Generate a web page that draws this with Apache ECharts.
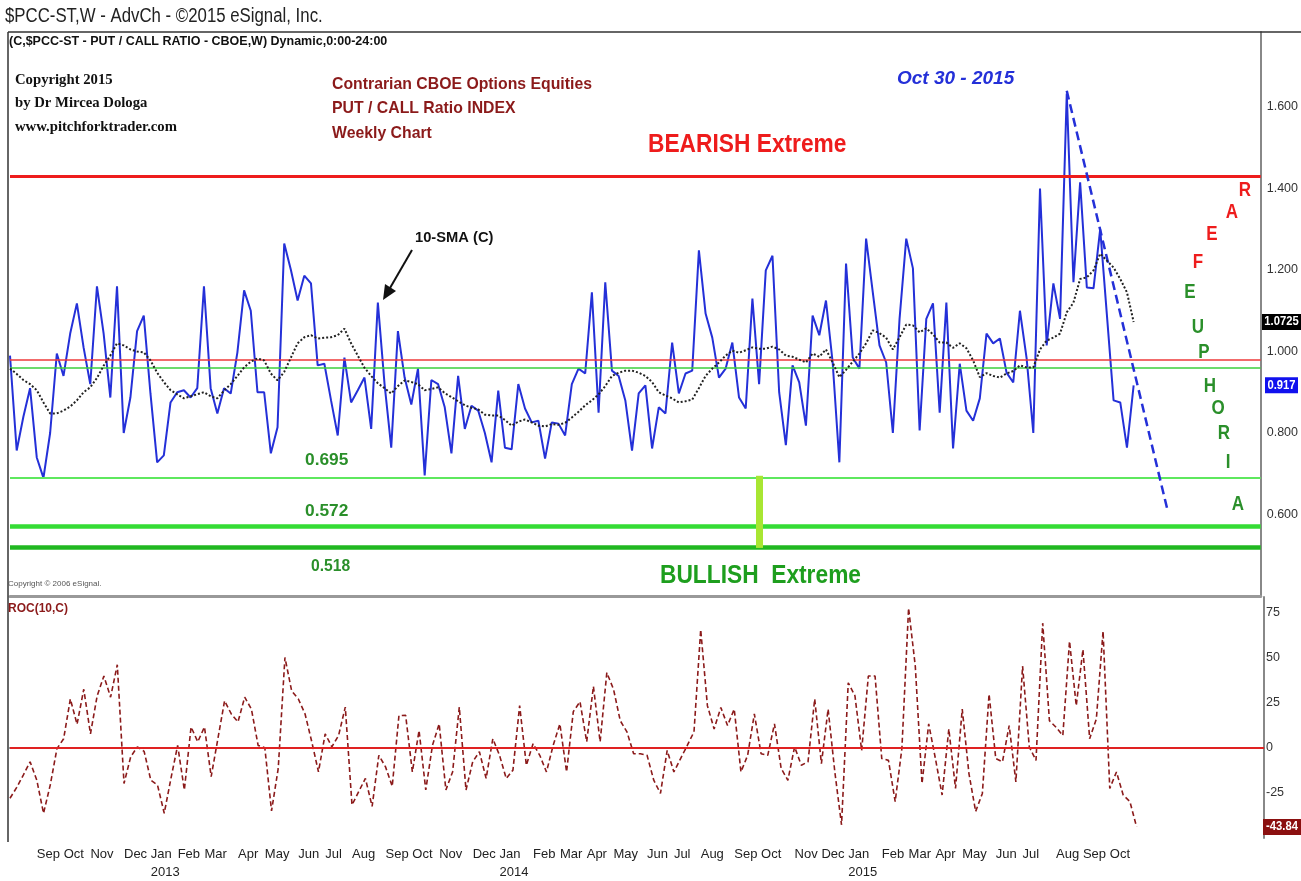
<!DOCTYPE html>
<html>
<head>
<meta charset="utf-8">
<title>$PCC-ST Put/Call Ratio - Weekly</title>
<script src="https://cdn.jsdelivr.net/npm/echarts@6/dist/echarts.min.js"></script>
<style>
  html, body { margin: 0; padding: 0; background: #fff; }
  #chart { width: 1301px; height: 881px; }
</style>
</head>
<body>
<div id="chart"></div>
<script>
/* -------------------------------------------------------------------------- */
/* Data (Aug 10 2012 .. Oct 30 2015)                */
var firstWeek = [2012, 7, 10];
var futureWeeks = 19;
var monthNames = ['Jan', 'Feb', 'Mar', 'Apr', 'May', 'Jun', 'Jul', 'Aug', 'Sep', 'Oct', 'Nov', 'Dec'];

var closeValues = [
  0.99, 0.757, 0.84, 0.91, 0.74, 0.69, 0.80, 0.995, 0.94, 1.044,
  1.118, 1.01, 0.92, 1.16, 1.044, 0.887, 1.16, 0.80, 0.887, 1.05,
  1.088, 0.897, 0.728, 0.745, 0.875, 0.90, 0.905, 0.887, 0.91, 1.16,
  0.91, 0.848, 0.91, 0.897, 0.998, 1.15, 1.10, 0.90, 0.90, 0.75,
  0.814, 1.265, 1.20, 1.125, 1.186, 1.167, 0.966, 0.97, 0.88, 0.794,
  0.985, 0.875, 0.905, 0.936, 0.81, 1.12, 0.92, 0.764, 1.05, 0.936,
  0.87, 0.958, 0.696, 0.93, 0.92, 0.863, 0.75, 0.94, 0.81, 0.867,
  0.855, 0.80, 0.728, 0.904, 0.764, 0.76, 0.92, 0.86, 0.826, 0.83,
  0.737, 0.826, 0.823, 0.794, 0.92, 0.958, 0.946, 1.145, 0.85, 1.17,
  0.953, 0.94, 0.88, 0.757, 0.897, 0.917, 0.762, 0.863, 0.848, 1.022,
  0.897, 0.946, 0.953, 1.248, 1.093, 1.034, 0.936, 0.958, 1.022, 0.887,
  0.86, 1.13, 0.92, 1.199, 1.235, 0.90, 0.77, 0.966, 0.924, 0.818,
  1.088, 1.04, 1.125, 0.973, 0.728, 1.216, 0.985, 0.958, 1.277, 1.145,
  1.015, 0.973, 0.80, 1.08, 1.277, 1.204, 0.806, 1.08, 1.118, 0.85,
  1.12, 0.762, 0.97, 0.855, 0.83, 0.885, 1.044, 1.02, 1.032, 0.948,
  0.924, 1.10, 0.983, 0.80, 1.40, 1.015, 1.167, 1.08, 1.633, 1.17,
  1.415, 1.157, 1.155, 1.30, 1.09, 0.88, 0.875, 0.764, 0.917
];

// 10-SMA (C), black dotted line
var smaValues = [
  0.958, 0.945, 0.93, 0.92, 0.905, 0.875, 0.848, 0.848, 0.855, 0.865,
  0.88, 0.90, 0.912, 0.935, 0.965, 0.99, 1.02, 1.015, 1.005, 1.0,
  0.998, 0.978, 0.948, 0.925, 0.905, 0.895, 0.885, 0.89, 0.895, 0.90,
  0.89, 0.885, 0.904, 0.92, 0.94, 0.961, 0.975, 0.983, 0.978, 0.946,
  0.929, 0.95, 0.985, 1.02, 1.035, 1.04, 1.032, 1.034, 1.035, 1.04,
  1.056, 1.02, 0.99, 0.96, 0.94, 0.922, 0.91, 0.897, 0.915, 0.929,
  0.925, 0.92, 0.905, 0.908, 0.912, 0.898, 0.888, 0.878, 0.868, 0.862,
  0.858, 0.845, 0.843, 0.843, 0.832, 0.818, 0.828, 0.833, 0.826, 0.818,
  0.816, 0.822, 0.82, 0.825, 0.838, 0.852, 0.868, 0.88, 0.895, 0.915,
  0.94, 0.948, 0.953, 0.953, 0.948, 0.94, 0.925, 0.90, 0.892, 0.885,
  0.875, 0.878, 0.882, 0.91, 0.94, 0.958, 0.973, 0.99, 1.002, 0.997,
  1.003, 1.01, 1.007, 1.007, 1.012, 1.005, 0.99, 0.987, 0.98, 0.973,
  0.995, 0.987, 1.005, 0.973, 0.937, 0.955, 0.975, 0.995, 1.02, 1.052,
  1.045, 1.034, 1.005, 1.035, 1.066, 1.064, 1.047, 1.057, 1.042, 1.022,
  1.022, 1.009, 1.02, 1.008, 0.978, 0.937, 0.947, 0.94, 0.936, 0.946,
  0.952, 0.966, 0.961, 0.961, 1.005, 1.027, 1.034, 1.044, 1.096, 1.12,
  1.178, 1.182, 1.199, 1.24, 1.223, 1.206, 1.178, 1.145, 1.0725
];

// ROC(10,C), lower panel
var rocValues = [
  -28, -22, -15, -7.8, -18, -36.3, -20.7, -0.5, 5, 27,
  13, 32.4, 7.7, 28.8, 39.7, 28, 46, -19.8, -5, 0.5,
  -2, -18, -20.7, -36.3, -17, 1.3, -23.4, 11.5, 3.3, 11.5,
  -16, 5, 26, 18.7, 14.3, 28, 21.4, 1.3, 0, -35,
  -11.5, 50, 31.5, 27, 18.7, 3.3, -13.4, 7.7, 0.5, 6.8,
  22.5, -31.7, -24.3, -17, -32.5, -4.2, -10.6, -21.4, 17.8, 18,
  -13.4, 9.5, -23.4, 1.3, 13.2, -23.4, -13.4, 22.5, -23.4, -7.8,
  -2.2, -17, 5, -4.2, -17, -12.4, 23.3, -9.7, 2.2, -4.2,
  -13.4, 1.3, 13.2, -13.4, 20, 25.5, 3.3, 34, 3.3, 41.6,
  32.4, 15, 8.8, -3.3, -3.3, -4.2, -18, -25.3, -1.5, -13.4,
  -6, 1.3, 8.8, 65.4, 23.3, 10.4, 22.3, 12.3, 21.4, -13.4,
  -4.2, 18.7, -3.3, -4.2, 13.2, -11.5, -18, 0.5, -9.7, -7.8,
  27, -8.8, 21.4, -13.4, -42.7, 36, 28.8, -1.5, 39.7, 39.7,
  -6, -7, -29.8, -0.5, 77.3, 45.2, -19.8, 13.2, -6, -26.2,
  10.4, -22.5, 21.4, -14.3, -35.3, -25.3, 29.7, -6, -7.8, 12.3,
  -18.9, 45.2, 0.4, -7, 69, 15, 11.3, 6.8, 59, 23.3,
  54.4, 5, 16, 64.5, -22.5, -13.4, -26.2, -29.8, -43.84
];

// horizontal levels drawn across the upper panel
var bearishExtreme = 1.434;
var redMeanLevel = 0.978;
var greenMeanLevel = 0.963;
var bullishLevels = [0.695, 0.572, 0.518];
var lastSma = 1.0725;

// blue dashed trend line: [week index, value]
var trendStart = [158, 1.64];
var trendEnd = [173, 0.615];
var markerWeek = 112;
/* -------------------------------------------------------------------------- */

var narrow = "'Liberation Sans Narrow', 'Arial Narrow', 'Liberation Sans', sans-serif";

var dates = [];
var d0 = Date.UTC(firstWeek[0], firstWeek[1], firstWeek[2]);
for (var i = 0; i < closeValues.length + futureWeeks; i++) {
  dates.push(new Date(d0 + i * 7 * 864e5).toISOString().slice(0, 10));
}

var isMonthStart = function isMonthStart(i) {
  if (i === 0 || i >= closeValues.length) return false;
  return dates[i].slice(5, 7) !== dates[i - 1].slice(5, 7);
};

var chart = echarts.init(document.getElementById('chart'));

var option = {
  animation: false,
  backgroundColor: '#fff',
  grid: [
    { left: 10, right: 37, top: 32, height: 564 },
    { left: 10, right: 37, top: 597, height: 243 }
  ],
  xAxis: [{
    type: 'category',
    gridIndex: 0,
    data: dates,
    boundaryGap: false,
    axisLine: { show: true, lineStyle: { color: '#999', width: 3 } },
    axisTick: { show: false },
    axisLabel: { show: false },
    splitLine: { show: false }
  }, {
    type: 'category',
    gridIndex: 1,
    data: dates,
    boundaryGap: false,
    axisLine: { show: true, lineStyle: { color: '#777', width: 2 } },
    axisTick: { show: false },
    splitLine: { show: false },
    axisLabel: {
      interval: function (index) { return isMonthStart(index); },
      formatter: function (value) {
        var m = +value.slice(5, 7) - 1;
        return m === 0 ? monthNames[m] + '\n' + value.slice(0, 4) : monthNames[m];
      },
      align: 'left',
      margin: 7,
      color: '#222',
      fontSize: 13,
      lineHeight: 18,
      fontFamily: narrow
    }
  }],
  yAxis: [{
    type: 'value',
    gridIndex: 0,
    position: 'right',
    min: 0.4,
    max: 1.784,
    interval: 0.2,
    axisLine: { show: true, lineStyle: { color: '#888', width: 2 } },
    axisTick: { show: false },
    splitLine: { show: false },
    axisLabel: {
      margin: 6,
      color: '#333',
      fontSize: 12.5,
      fontFamily: narrow,
      showMaxLabel: false,
      formatter: function (v) { return v < 0.5 ? '' : v.toFixed(3); }
    }
  }, {
    type: 'value',
    gridIndex: 1,
    position: 'right',
    min: -50,
    max: 83.5,
    interval: 25,
    axisLine: { show: true, lineStyle: { color: '#888', width: 2 } },
    axisTick: { show: false },
    splitLine: { show: false },
    axisLabel: {
      margin: 2,
      color: '#333',
      fontSize: 12.5,
      fontFamily: narrow,
      showMaxLabel: false,
      formatter: function (v) { return v < -30 || v > 80 ? '' : String(v); }
    }
  }],
  series: [{
    name: 'PCC',
    type: 'line',
    xAxisIndex: 0,
    yAxisIndex: 0,
    data: closeValues,
    symbol: 'none',
    z: 4,
    lineStyle: { color: '#2430d8', width: 2 },
    markLine: {
      silent: true,
      symbol: 'none',
      label: { show: false },
      data: [
        { yAxis: bearishExtreme, lineStyle: { color: '#ee1c1c', width: 3, type: 'solid' } },
        { yAxis: redMeanLevel, lineStyle: { color: '#ee3a3a', width: 1.5, type: 'solid' } },
        { yAxis: greenMeanLevel, lineStyle: { color: '#3ccf3c', width: 1.5, type: 'solid' } },
        { yAxis: bullishLevels[0], lineStyle: { color: '#5ee85e', width: 2, type: 'solid' } },
        { yAxis: bullishLevels[1], lineStyle: { color: '#35dc35', width: 4.5, type: 'solid' } },
        { yAxis: bullishLevels[2], lineStyle: { color: '#20b820', width: 4.5, type: 'solid' } },
        [
          { coord: [dates[markerWeek], bullishLevels[0]], lineStyle: { color: '#a8e632', width: 7, type: 'solid' } },
          { coord: [dates[markerWeek], bullishLevels[2]] }
        ],
        [
          { coord: [dates[trendStart[0]], trendStart[1]], lineStyle: { color: '#2430d8', width: 2.5, type: [9, 5] } },
          { coord: [dates[trendEnd[0]], trendEnd[1]] }
        ]
      ]
    }
  }, {
    name: '10-SMA (C)',
    type: 'line',
    xAxisIndex: 0,
    yAxisIndex: 0,
    data: smaValues,
    symbol: 'none',
    z: 5,
    lineStyle: { color: '#222', width: 2, type: [2, 2] }
  }, {
    name: 'ROC(10,C)',
    type: 'line',
    xAxisIndex: 1,
    yAxisIndex: 1,
    data: rocValues,
    symbol: 'none',
    z: 4,
    lineStyle: { color: '#8b1a1a', width: 1.6, type: [5, 3] },
    markLine: {
      silent: true,
      symbol: 'none',
      label: { show: false },
      data: [{ yAxis: 0, lineStyle: { color: '#e02222', width: 2, type: 'solid' } }]
    }
  }]
};

chart.setOption(option);

// text annotations and value badges; sx squeezes text to the narrow face of the original
var txt = function (text, x, y, size, color, weight, family, extra, sx) {
  var style = {
    text: text, x: 0, y: 0, fill: color,
    fontSize: size, fontWeight: weight || 'normal',
    fontFamily: family || narrow, verticalAlign: 'middle'
  };
  for (var k in extra) style[k] = extra[k];
  return { type: 'text', silent: true, z: 20, x: x, y: y, scaleX: sx || 1, style: style };
};

var badge = function (value, yAxisIndex, label, bg, x, w) {
  var y = chart.convertToPixel({ yAxisIndex: yAxisIndex }, value);
  return [
    { type: 'rect', silent: true, z: 20, shape: { x: x, y: y - 8, width: w, height: 16 }, style: { fill: bg } },
    txt(label, x + w / 2, y, 12.5, '#fff', 'bold', narrow, { align: 'center' }, 0.9)
  ];
};

var red = '#ee1c1c';
var green = '#2a8f2a';
var serif = "'Liberation Serif', 'Times New Roman', serif";

var graphics = [
  { type: 'line', silent: true, z: 19, shape: { x1: 8, y1: 32, x2: 1301, y2: 32 }, style: { stroke: '#333', lineWidth: 1.5 } },
  { type: 'line', silent: true, z: 19, shape: { x1: 8, y1: 32, x2: 8, y2: 842 }, style: { stroke: '#333', lineWidth: 1.5 } },
  txt('$PCC-ST,W - AdvCh - \u00a92015 eSignal, Inc.', 5, 16, 20, '#222', 'normal', narrow, {}, 0.84),
  txt('(C,$PCC-ST - PUT / CALL RATIO - CBOE,W) Dynamic,0:00-24:00', 9, 42, 12.5, '#111', 'bold'),
  txt('Copyright 2015', 15, 80, 15, '#111', 'bold', serif, {}, 0.98),
  txt('by Dr Mircea Dologa', 15, 103, 15, '#111', 'bold', serif, {}, 0.98),
  txt('www.pitchforktrader.com', 15, 127, 15, '#111', 'bold', serif, {}, 0.98),
  txt('Contrarian CBOE Options Equities', 332, 84, 17, '#8b1a1a', 'bold', narrow, {}, 0.93),
  txt('PUT / CALL Ratio INDEX', 332, 108, 17, '#8b1a1a', 'bold', narrow, {}, 0.93),
  txt('Weekly Chart', 332, 133, 17, '#8b1a1a', 'bold', narrow, {}, 0.93),
  txt('Oct 30 - 2015', 897, 79, 19, '#2430d8', 'bold', narrow, { fontStyle: 'italic' }),
  txt('BEARISH Extreme', 648, 145, 25, red, 'bold', narrow, {}, 0.91),
  txt('BULLISH  Extreme', 660, 576, 25, '#1e9e1e', 'bold', narrow, {}, 0.91),
  txt('10-SMA (C)', 415, 238, 14, '#111', 'bold', narrow, {}, 1.05),
  txt(bullishLevels[0].toFixed(3), 305, 460, 16.5, green, 'bold', narrow, {}, 1.05),
  txt(bullishLevels[1].toFixed(3), 305, 511, 16.5, green, 'bold', narrow, {}, 1.05),
  txt(bullishLevels[2].toFixed(3), 311, 566, 16.5, green, 'bold', narrow, {}, 0.95),
  txt('Copyright \u00a9 2006 eSignal.', 8, 584, 8, '#555'),
  txt('ROC(10,C)', 8, 609, 12, '#8b1a1a', 'bold'),
  { type: 'line', silent: true, z: 20, shape: { x1: 412, y1: 250, x2: 390, y2: 288 }, style: { stroke: '#111', lineWidth: 2 } },
  { type: 'polygon', silent: true, z: 20, shape: { points: [[383, 300], [396, 291], [385, 284]] }, style: { fill: '#111' } }
];

// FEAR / EUPHORIA letters
var letters = [
  ['R', 1245, 190, red], ['A', 1232, 212, red], ['E', 1212, 234, red], ['F', 1198, 262, red],
  ['E', 1190, 292, green], ['U', 1198, 327, green], ['P', 1204, 352, green], ['H', 1210, 386, green],
  ['O', 1218, 408, green], ['R', 1224, 433, green], ['I', 1228, 462, green], ['A', 1238, 504, green]
];
letters.forEach(function (l) {
  graphics.push(txt(l[0], l[1], l[2], 20, l[3], 'bold', narrow, { align: 'center' }, 0.85));
});

graphics = graphics
  .concat(badge(lastSma, 0, lastSma.toFixed(4), '#000', 1262, 39))
  .concat(badge(closeValues[closeValues.length - 1], 0, closeValues[closeValues.length - 1].toFixed(3), '#1111ee', 1265, 33))
  .concat(badge(rocValues[rocValues.length - 1], 1, rocValues[rocValues.length - 1].toFixed(2), '#8b1010', 1263, 38));

chart.setOption({ graphic: graphics });
</script>
</body>
</html>
